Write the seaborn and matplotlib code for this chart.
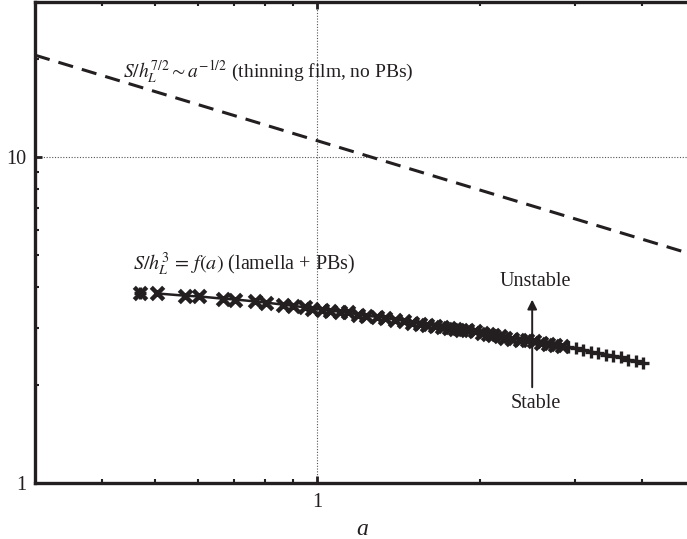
import numpy as np
import pandas as pd
import matplotlib
matplotlib.use("Agg")
import matplotlib.pyplot as plt
import seaborn as sns
from matplotlib.ticker import FixedLocator, NullFormatter, FixedFormatter

# ---- data ----
# thinning film (no PBs): dashed line endpoints
film_a = [0.30, 4.90]
film_S = [20.6, 5.06]

# lamella + PBs, 'x' markers
x_a = [0.470, 0.505, 0.569, 0.605, 0.670, 0.705, 0.768, 0.804, 0.865, 0.903,
       0.950, 0.979, 1.021, 1.057, 1.103, 1.141, 1.191, 1.232, 1.291, 1.336,
       1.394, 1.449, 1.499, 1.551, 1.598, 1.653, 1.704, 1.755, 1.801, 1.848,
       1.896, 1.961, 2.020, 2.072, 2.117, 2.181, 2.228, 2.295, 2.374, 2.446,
       2.521, 2.598, 2.677, 2.760, 2.843]
x_S = [3.84, 3.82, 3.76, 3.74, 3.68, 3.66, 3.61, 3.58, 3.53, 3.50,
       3.46, 3.43, 3.41, 3.38, 3.36, 3.34, 3.29, 3.26, 3.24, 3.22,
       3.17, 3.15, 3.11, 3.08, 3.06, 3.04, 3.02, 3.00, 2.98, 2.96,
       2.94, 2.92, 2.89, 2.87, 2.85, 2.83, 2.79, 2.77, 2.75, 2.74,
       2.72, 2.70, 2.68, 2.66, 2.64]

# '+' markers
p_a = [0.470, 2.915, 3.016, 3.108, 3.217, 3.315, 3.430, 3.534, 3.655, 3.766, 3.895, 4.010]
p_S = [3.84, 2.62, 2.59, 2.57, 2.53, 2.51, 2.48, 2.46, 2.43, 2.39, 2.37, 2.34]

# arrow between stability regions
arrow_a = 2.50
arrow_S = [1.93, 3.73]

ink = "#231f20"

sns.set_style("ticks")
plt.rcParams["font.family"] = ["Liberation Serif", "DejaVu Serif"]
plt.rcParams["mathtext.fontset"] = "stix"

fig = plt.figure(figsize=(6.87, 5.39), dpi=100)
ax = fig.add_axes([35/687, (539-483)/539, (690-35)/687, (483-2)/539])
ax.set_xscale("log")
ax.set_yscale("log")

sns.lineplot(x=film_a, y=film_S, ax=ax, color=ink, lw=2.2, linestyle=(0, (5, 3)))

line_a = x_a[1:] + p_a[1:]
line_S = x_S[1:] + p_S[1:]
sns.lineplot(x=line_a, y=line_S, ax=ax, color=ink, lw=1.8, sort=False)

sns.scatterplot(x=x_a, y=x_S, ax=ax, marker="x", s=80, color=ink, linewidth=3.2)
sns.scatterplot(x=p_a, y=p_S, ax=ax, marker="+", s=70, color=ink, linewidth=2.4)

ax.set_xlim(0.3, 4.90)
ax.set_ylim(1, 30)

ax.annotate("", xy=(arrow_a, arrow_S[1]), xytext=(arrow_a, arrow_S[0]),
            arrowprops=dict(arrowstyle="-|>", color=ink, lw=1.4, mutation_scale=14))
ax.text(arrow_a * 1.015, 4.16, "Unstable", ha="center", va="center", fontsize=14.5, color=ink)
ax.text(arrow_a * 1.015, 1.75, "Stable", ha="center", va="center", fontsize=14.5, color=ink)

ax.text(0.437, 18.3, r"$S/h_L^{7/2} \sim a^{-1/2}$ (thinning film, no PBs)",
        ha="left", va="center", fontsize=14, color=ink)
ax.text(0.456, 4.69, r"$S/h_L^{3} \,=\, f(a)$ (lamella + PBs)",
        ha="left", va="center", fontsize=14.5, color=ink)

# ticks
ax.xaxis.set_major_locator(FixedLocator([1]))
ax.xaxis.set_major_formatter(FixedFormatter(["1"]))
ax.xaxis.set_minor_locator(FixedLocator([0.4, 0.5, 0.6, 0.7, 0.8, 0.9, 2, 3, 4]))
ax.xaxis.set_minor_formatter(NullFormatter())
ax.yaxis.set_major_locator(FixedLocator([1, 10]))
ax.yaxis.set_major_formatter(FixedFormatter(["1", "10"]))
ax.yaxis.set_minor_locator(FixedLocator([2, 3, 4, 5, 6, 7, 8, 9, 20, 30]))
ax.yaxis.set_minor_formatter(NullFormatter())
ax.tick_params(which="both", direction="in", top=True, right=False, colors=ink,
               labelsize=14.5, labelcolor=ink)
ax.tick_params(which="major", length=5, width=2)
ax.tick_params(which="minor", length=3, width=1.5)
ax.tick_params(axis="x", pad=7)
ax.tick_params(axis="y", pad=6)

ax.grid(True, which="major", linestyle=(0, (1, 1.5)), color="#555555", lw=0.8)

for side in ["left", "bottom", "top", "right"]:
    ax.spines[side].set_linewidth(2.4)
    ax.spines[side].set_color(ink)
    ax.spines[side].set_visible(True)

ax.set_xlabel("a", fontsize=17, style="italic", color=ink, labelpad=5)
ax.set_ylabel("")

fig.savefig("out.png", dpi=100)
